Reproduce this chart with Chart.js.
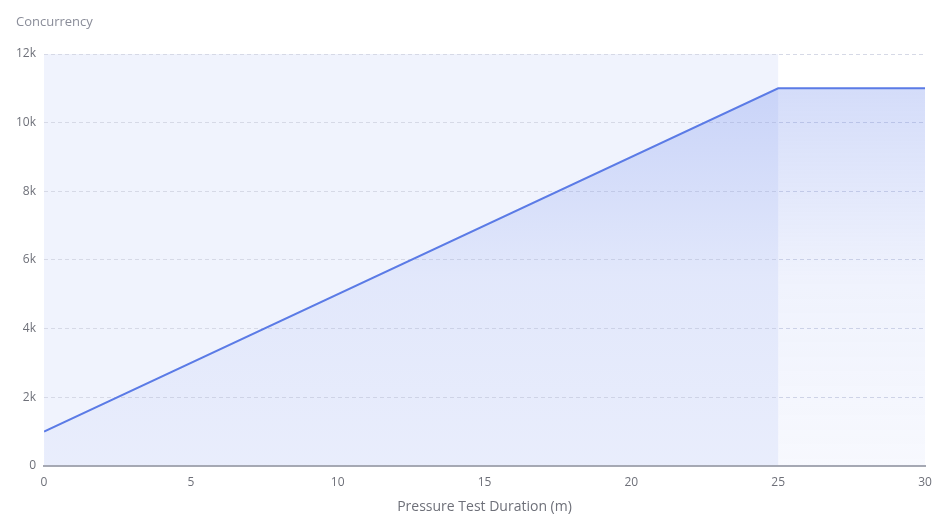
<!DOCTYPE html>
<html>
<head>
<meta charset="utf-8">
<script src="https://cdn.jsdelivr.net/npm/chart.js@4/dist/chart.umd.min.js"></script>
<style>
  html, body { margin: 0; padding: 0; background: #fff; }
  #wrap { width: 937px; height: 515px; position: relative; }
</style>
</head>
<body>
<div id="wrap"><canvas id="c"></canvas></div>
<script>
// Load profile: minutes into the test and the concurrency at that moment
const minutes = [0, 25, 30];
const concurrency = [1000, 11000, 11000];
// Ramp-up phase shown as a shaded band
const rampStart = 0;
const rampEnd = 25;
const yTitle = 'Concurrency';
const xTitle = 'Pressure Test Duration (m)';

const FONT = '"Open Sans", "Noto Sans", sans-serif';

const rampBand = {
  id: 'rampBand',
  beforeDraw(chart) {
    const { ctx, chartArea, scales } = chart;
    const x0 = scales.x.getPixelForValue(rampStart);
    const x1 = scales.x.getPixelForValue(rampEnd);
    ctx.save();
    ctx.fillStyle = '#f0f3fd';
    ctx.fillRect(x0, chartArea.top, x1 - x0, chartArea.bottom - chartArea.top);
    ctx.restore();
  },
  afterDraw(chart) {
    const { ctx } = chart;
    ctx.save();
    ctx.font = '13px ' + FONT;
    ctx.fillStyle = '#8a8d99';
    ctx.textBaseline = 'middle';
    ctx.textAlign = 'left';
    ctx.fillText(yTitle, 16, 22);
    ctx.restore();
  }
};

new Chart(document.getElementById('c'), {
  type: 'line',
  data: {
    datasets: [{
      data: minutes.map((m, i) => ({ x: m, y: concurrency[i] })),
      borderColor: '#5b7be6',
      borderWidth: 2,
      pointRadius: 0,
      tension: 0,
      fill: 'origin',
      backgroundColor(context) {
        const { chart } = context;
        const area = chart.chartArea;
        if (!area) return 'rgba(100,130,235,0.15)';
        const top = chart.scales.y.getPixelForValue(Math.max(...concurrency));
        const g = chart.ctx.createLinearGradient(0, top, 0, area.bottom);
        g.addColorStop(0, 'rgba(100,130,235,0.28)');
        g.addColorStop(0.5, 'rgba(100,130,235,0.10)');
        g.addColorStop(1, 'rgba(100,130,235,0.05)');
        return g;
      }
    }]
  },
  options: {
    responsive: true,
    maintainAspectRatio: false,
    animation: false,
    layout: { padding: { top: 54, right: 12, left: 8, bottom: 0 } },
    plugins: { legend: { display: false }, tooltip: { enabled: false } },
    scales: {
      x: {
        type: 'linear',
        min: 0,
        max: 30,
        ticks: { stepSize: 5, color: '#6e7079', font: { family: FONT, size: 12 }, padding: 2, maxRotation: 0 },
        grid: { display: false },
        border: { display: true, color: '#a6a9b3', width: 2 },
        title: { display: true, text: xTitle, color: '#6e7079', font: { family: FONT, size: 14 }, padding: { top: 6, bottom: 0 } }
      },
      y: {
        min: 0,
        max: 12000,
        ticks: {
          stepSize: 2000,
          color: '#6e7079',
          font: { family: FONT, size: 12 },
          padding: 8,
          callback: v => v === 0 ? '0' : (v / 1000) + 'k'
        },
        grid: { color: '#d6d9e6', drawTicks: false, lineWidth: 1 },
        border: { display: false, dash: [4, 3] }
      }
    }
  },
  plugins: [rampBand]
});
</script>
</body>
</html>
